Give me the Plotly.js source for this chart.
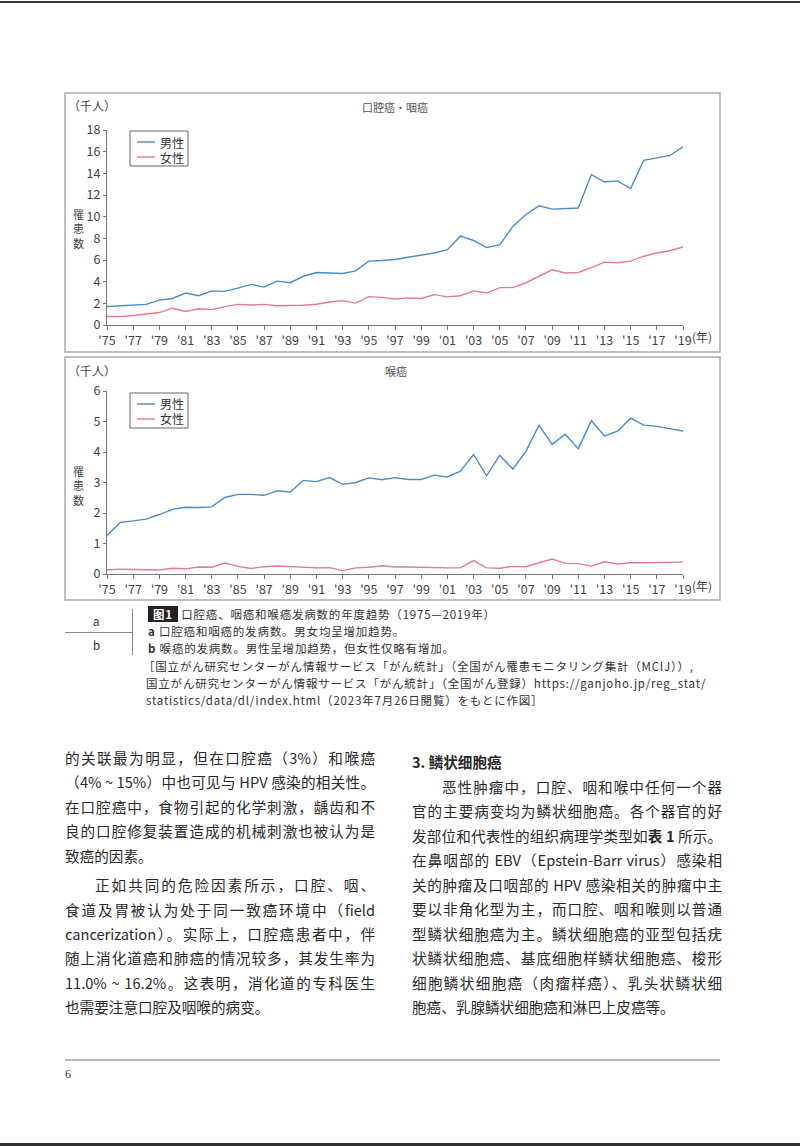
<!DOCTYPE html>
<html><head><meta charset="utf-8">
<script src="https://cdn.plot.ly/plotly-3.0.1.min.js"></script>
<style>
html,body{margin:0;padding:0;background:#fff;}
#page{position:relative;width:800px;height:1146px;overflow:hidden;background:#fff;}
#chart{position:absolute;left:0;top:0;width:800px;height:1146px;}
.t{position:absolute;font-family:"Noto Sans CJK SC","Noto Sans CJK JP",sans-serif;color:#2a2a2a;white-space:nowrap;}
.cap{font-size:11.5px;line-height:15px;color:#333;letter-spacing:0.8px;}
.body{font-size:14.6px;width:310px;text-align:justify;text-align-last:justify;white-space:normal;height:22px;line-height:22px;overflow:hidden;}
.last{text-align-last:left;}
.rule{position:absolute;}
</style></head>
<body><div id="page">
<div id="chart"></div>
<div class="rule" style="left:0;top:1px;width:800px;height:2px;background:#333;"></div>
<div class="rule" style="left:0;top:1143px;width:800px;height:3px;background:#333;"></div>
<!-- caption block -->
<div class="t cap" style="left:93px;top:614px;">a</div>
<div class="rule" style="left:65px;top:632px;width:67px;height:1px;background:#888;"></div>
<div class="t cap" style="left:93px;top:638px;">b</div>
<div class="rule" style="left:132px;top:609px;width:1px;height:46px;background:#888;"></div>
<div class="t cap" style="left:148px;top:607px;"><span style="background:#222;color:#fff;padding:0 5px;font-weight:bold;">图1</span> 口腔癌、咽癌和喉癌发病数的年度趋势（1975—2019年）</div>
<div class="t cap" style="left:148px;top:624px;"><b>a</b> 口腔癌和咽癌的发病数。男女均呈增加趋势。</div>
<div class="t cap" style="left:148px;top:641px;"><b>b</b> 喉癌的发病数。男性呈增加趋势，但女性仅略有增加。</div>
<div class="t cap" style="left:143px;top:659px;">［国立がん研究センターがん情報サービス「がん統計」（全国がん罹患モニタリング集計（MCIJ））,</div>
<div class="t cap" style="left:146px;top:676px;">国立がん研究センターがん情報サービス「がん統計」（全国がん登録）https://ganjoho.jp/reg_stat/</div>
<div class="t cap" style="left:146px;top:693px;">statistics/data/dl/index.html（2023年7月26日閲覧）をもとに作図］</div>
<!-- left column -->
<div class="t body" style="left:65px;top:747px;">的关联最为明显，但在口腔癌（3%）和喉癌</div>
<div class="t body" style="left:65px;top:771px;">（4% ~ 15%）中也可见与 HPV 感染的相关性。</div>
<div class="t body" style="left:65px;top:796px;">在口腔癌中，食物引起的化学刺激，龋齿和不</div>
<div class="t body" style="left:65px;top:820px;">良的口腔修复装置造成的机械刺激也被认为是</div>
<div class="t body last" style="left:65px;top:845px;">致癌的因素。</div>
<div class="t body" style="left:65px;top:874px;padding-left:30px;width:280px;">正如共同的危险因素所示，口腔、咽、</div>
<div class="t body" style="left:65px;top:899px;">食道及胃被认为处于同一致癌环境中（field</div>
<div class="t body" style="left:65px;top:923px;">cancerization）。实际上，口腔癌患者中，伴</div>
<div class="t body" style="left:65px;top:947px;">随上消化道癌和肺癌的情况较多，其发生率为</div>
<div class="t body" style="left:65px;top:972px;">11.0% ~ 16.2%。这表明，消化道的专科医生</div>
<div class="t body last" style="left:65px;top:996px;">也需要注意口腔及咽喉的病变。</div>
<!-- right column -->
<div class="t body last" style="left:412px;top:751px;font-weight:bold;">3. 鳞状细胞癌</div>
<div class="t body" style="left:412px;top:776px;padding-left:30px;width:280px;">恶性肿瘤中，口腔、咽和喉中任何一个器</div>
<div class="t body" style="left:412px;top:800px;">官的主要病变均为鳞状细胞癌。各个器官的好</div>
<div class="t body" style="left:412px;top:825px;">发部位和代表性的组织病理学类型如<b>表 1</b> 所示。</div>
<div class="t body" style="left:412px;top:849px;">在鼻咽部的 EBV（Epstein-Barr virus）感染相</div>
<div class="t body" style="left:412px;top:874px;">关的肿瘤及口咽部的 HPV 感染相关的肿瘤中主</div>
<div class="t body" style="left:412px;top:898px;">要以非角化型为主，而口腔、咽和喉则以普通</div>
<div class="t body" style="left:412px;top:923px;">型鳞状细胞癌为主。鳞状细胞癌的亚型包括疣</div>
<div class="t body" style="left:412px;top:947px;">状鳞状细胞癌、基底细胞样鳞状细胞癌、梭形</div>
<div class="t body" style="left:412px;top:972px;">细胞鳞状细胞癌（肉瘤样癌）、乳头状鳞状细</div>
<div class="t body last" style="left:412px;top:996px;">胞癌、乳腺鳞状细胞癌和淋巴上皮癌等。</div>
<div class="rule" style="left:65px;top:1059px;width:655px;height:2px;background:#bbb;"></div>
<div class="t" style="left:65px;top:1067px;font-size:12px;font-family:'Liberation Serif',serif;color:#333;">6</div>
</div>
<script>
// ---- data ----
const years = [1975,1976,1977,1978,1979,1980,1981,1982,1983,1984,1985,1986,1987,1988,1989,1990,1991,1992,1993,1994,1995,1996,1997,1998,1999,2000,2001,2002,2003,2004,2005,2006,2007,2008,2009,2010,2011,2012,2013,2014,2015,2016,2017,2018,2019];
const oralMale = [1.71,1.75,1.8,1.9,2.3,2.45,2.95,2.7,3.15,3.1,3.4,3.75,3.5,4.05,3.9,4.5,4.85,4.8,4.75,5.0,5.9,5.95,6.05,6.25,6.45,6.65,6.95,8.2,7.8,7.15,7.4,9.1,10.2,11.0,10.7,10.75,10.8,13.9,13.2,13.3,12.6,15.2,15.4,15.65,16.45];
const oralFemale = [0.78,0.77,0.88,1.0,1.15,1.55,1.25,1.5,1.42,1.7,1.9,1.85,1.9,1.78,1.8,1.82,1.92,2.12,2.25,2.02,2.62,2.55,2.4,2.5,2.45,2.8,2.6,2.7,3.15,2.95,3.45,3.45,3.9,4.5,5.1,4.8,4.85,5.3,5.8,5.75,5.9,6.35,6.65,6.85,7.2];
const larynxMale = [1.26,1.69,1.74,1.8,1.95,2.12,2.19,2.18,2.2,2.51,2.61,2.61,2.58,2.73,2.69,3.07,3.03,3.16,2.94,3.0,3.15,3.09,3.16,3.1,3.1,3.24,3.18,3.37,3.92,3.22,3.89,3.44,4.02,4.88,4.25,4.58,4.11,5.03,4.53,4.68,5.11,4.88,4.84,4.76,4.69];
const larynxFemale = [0.13,0.16,0.15,0.13,0.13,0.19,0.17,0.23,0.22,0.36,0.25,0.18,0.24,0.26,0.24,0.21,0.2,0.21,0.11,0.2,0.22,0.27,0.23,0.23,0.22,0.19,0.2,0.2,0.44,0.2,0.19,0.25,0.24,0.37,0.49,0.35,0.34,0.26,0.4,0.33,0.37,0.37,0.38,0.4,0.39];
const tickYears = [1975,1977,1979,1981,1983,1985,1987,1989,1991,1993,1995,1997,1999,2001,2003,2005,2007,2009,2011,2013,2015,2017,2019];
const tickLabels = ["'75","'77","'79","'81","'83","'85","'87","'89","'91","'93","'95","'97","'99","'01","'03","'05","'07","'09","'11","'13","'15","'17","'19"];
const seriesNames = ["男性","女性"];
const titles = ["口腔癌・咽癌","喉癌"];

const W=800,H=1146;
const px=x=>x/W, py=y=>1-y/H;
const blue="#4a8cc6", pink="#e57a92";
const colors=[blue,pink];
const ff='"Noto Sans CJK JP","Noto Sans CJK SC",sans-serif';
const font={family:ff,size:12.5,color:'#444'};

const traces=[
 {x:years,y:oralMale,name:seriesNames[0],type:'scatter',mode:'lines',line:{color:blue,width:1.4},xaxis:'x',yaxis:'y'},
 {x:years,y:oralFemale,name:seriesNames[1],type:'scatter',mode:'lines',line:{color:pink,width:1.4},xaxis:'x',yaxis:'y'},
 {x:years,y:larynxMale,name:seriesNames[0],type:'scatter',mode:'lines',line:{color:blue,width:1.4},xaxis:'x2',yaxis:'y2'},
 {x:years,y:larynxFemale,name:seriesNames[1],type:'scatter',mode:'lines',line:{color:pink,width:1.4},xaxis:'x2',yaxis:'y2'}
];
const xax=(anchor)=>({domain:[px(107),px(683)],range:[1975,2019],anchor:anchor,tickvals:tickYears,ticktext:tickLabels,
  showline:true,linecolor:'#777',linewidth:1,ticks:'outside',ticklen:4,tickcolor:'#777',showgrid:false,zeroline:false,
  tickfont:font,fixedrange:true});
const yax=(anchor,dom,rng,dt)=>({domain:dom,range:rng,anchor:anchor,dtick:dt,tick0:0,showline:true,linecolor:'#777',linewidth:1,
  ticks:'outside',ticklen:3,tickcolor:'#777',showgrid:false,zeroline:false,tickfont:font,fixedrange:true});
const ann=(x,y,t,opt={})=>Object.assign({xref:'paper',yref:'paper',x:px(x),y:py(y),text:t,showarrow:false,xanchor:'left',yanchor:'middle',
  font:{family:ff,size:12,color:'#444'}},opt);

const shapes=[
  {type:'rect',xref:'paper',yref:'paper',x0:px(65),x1:px(720),y0:py(352),y1:py(93),line:{color:'#aaa',width:1.5}},
  {type:'rect',xref:'paper',yref:'paper',x0:px(65),x1:px(720),y0:py(600),y1:py(357),line:{color:'#aaa',width:1.5}}
];
const annotations=[
  ann(66,105,'（千人）'), ann(66,370,'（千人）'),
  ann(395,107,titles[0],{xanchor:'center',font:{family:ff,size:11,color:'#555'}}),
  ann(396,371,titles[1],{xanchor:'center',font:{family:ff,size:11,color:'#555'}}),
  ann(78,229,'罹<br>患<br>数',{xanchor:'center',font:{family:ff,size:11,color:'#444'}}),
  ann(78,486,'罹<br>患<br>数',{xanchor:'center',font:{family:ff,size:11,color:'#444'}}),
  ann(690,336,'(年)'), ann(690,585,'(年)')
];
// legend boxes (one per panel)
[[131,166],[393,428]].forEach(([top,bot])=>{
  shapes.push({type:'rect',xref:'paper',yref:'paper',x0:px(130),x1:px(188),y0:py(bot),y1:py(top),line:{color:'#666',width:1}});
  seriesNames.forEach((n,i)=>{
    const yy=top+11+i*15;
    shapes.push({type:'line',xref:'paper',yref:'paper',x0:px(137),x1:px(155),y0:py(yy),y1:py(yy),line:{color:colors[i],width:1.4}});
    annotations.push(ann(158,yy,n,{font:{family:ff,size:12,color:'#333'}}));
  });
});

const layout={width:W,height:H,margin:{l:0,r:0,t:0,b:0},paper_bgcolor:'rgba(0,0,0,0)',plot_bgcolor:'rgba(0,0,0,0)',
 font:font,showlegend:false,
 xaxis:xax('y'),yaxis:yax('x',[py(325),py(130)],[0,18],2),
 xaxis2:xax('y2'),yaxis2:yax('x2',[py(574),py(391)],[0,6],1),
 shapes:shapes,annotations:annotations
};
Plotly.newPlot('chart',traces,layout,{staticPlot:true,displayModeBar:false});
</script>
</body></html>
